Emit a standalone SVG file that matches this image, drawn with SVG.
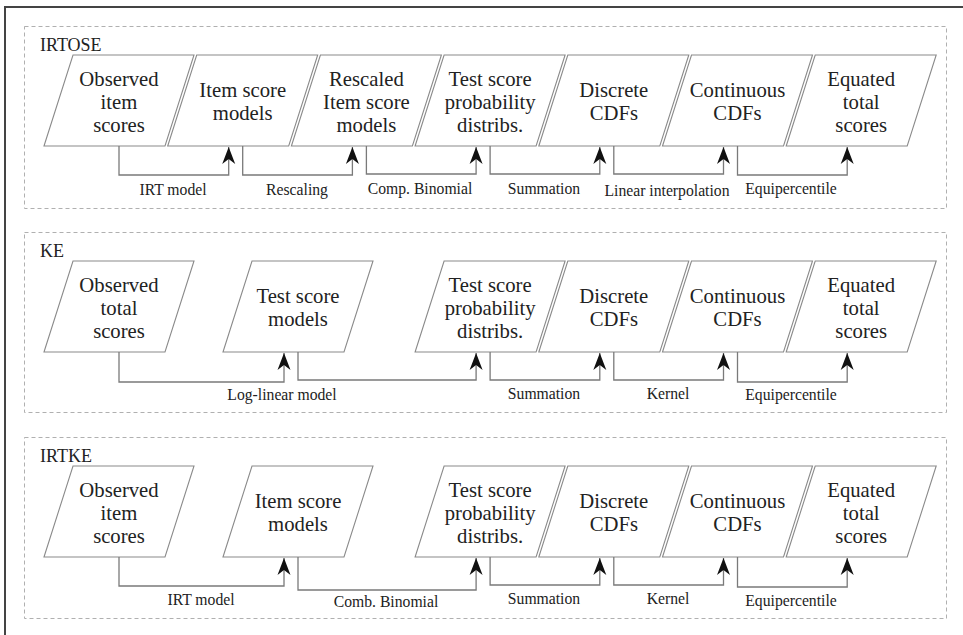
<svg xmlns="http://www.w3.org/2000/svg" width="963" height="635" viewBox="0 0 963 635">
<style>
.bg{fill:#fff}
.frame{stroke:#444;stroke-width:2;fill:none}
.sec{fill:none;stroke:#b0b0b0;stroke-width:1;stroke-dasharray:4 3}
.para{fill:#fff;stroke:#8a8a8a;stroke-width:1.1}
text{font-family:'Liberation Serif','DejaVu Serif',serif;fill:#222}
.nt{font-size:20.7px;text-anchor:middle}
.st{font-size:18px}
.lt{font-size:15.7px;text-anchor:middle}
.con{fill:none;stroke:#7a7a7a;stroke-width:1.3;marker-end:url(#arr)}
</style>
<defs>
<marker id="arr" markerUnits="userSpaceOnUse" viewBox="0 0 17 14" refX="17" refY="7" markerWidth="17" markerHeight="14" orient="auto">
<path d="M0,0.5 L17,7 L0,13.5 L5,7 Z" fill="#111"/>
</marker>
</defs>
<rect class="bg" x="0" y="0" width="963" height="635"/>
<path class="frame" d="M5,635 V7 H963"/>

<g id="sec-irtose">
<rect class="sec" x="24.5" y="26.5" width="922" height="182"/>
<text class="st" x="40" y="51">IRTOSE</text>
</g>
<g id="sec-ke">
<rect class="sec" x="24.5" y="232.5" width="922" height="180"/>
<text class="st" x="40" y="257">KE</text>
</g>
<g id="sec-irtke">
<rect class="sec" x="24.5" y="437.5" width="922" height="181"/>
<text class="st" x="40" y="462">IRTKE</text>
</g>

<!-- IRTOSE nodes -->
<g id="a1"><polygon class="para" points="44,146 73,55 194,55 165,146"/>
<text class="nt" x="119" y="86">Observed</text><text class="nt" x="119" y="109">item</text><text class="nt" x="119" y="132">scores</text></g>
<g id="a2"><polygon class="para" points="167.7,146 196.7,55 317.7,55 288.7,146"/>
<text class="nt" x="242.7" y="97">Item score</text><text class="nt" x="242.7" y="120">models</text></g>
<g id="a3"><polygon class="para" points="291.4,146 320.4,55 441.4,55 412.4,146"/>
<text class="nt" x="366.4" y="86">Rescaled</text><text class="nt" x="366.4" y="109">Item score</text><text class="nt" x="366.4" y="132">models</text></g>
<g id="a4"><polygon class="para" points="415.1,146 444.1,55 565.1,55 536.1,146"/>
<text class="nt" x="490.1" y="86">Test score</text><text class="nt" x="490.1" y="109">probability</text><text class="nt" x="490.1" y="132">distribs.</text></g>
<g id="a5"><polygon class="para" points="538.8,146 567.8,55 688.8,55 659.8,146"/>
<text class="nt" x="613.8" y="97">Discrete</text><text class="nt" x="613.8" y="120">CDFs</text></g>
<g id="a6"><polygon class="para" points="662.5,146 691.5,55 812.5,55 783.5,146"/>
<text class="nt" x="737.5" y="97">Continuous</text><text class="nt" x="737.5" y="120">CDFs</text></g>
<g id="a7"><polygon class="para" points="786.2,146 815.2,55 936.2,55 907.2,146"/>
<text class="nt" x="861.2" y="86">Equated</text><text class="nt" x="861.2" y="109">total</text><text class="nt" x="861.2" y="132">scores</text></g>

<!-- KE nodes -->
<g id="b1"><polygon class="para" points="44,352 73,261 194,261 165,352"/>
<text class="nt" x="119" y="292">Observed</text><text class="nt" x="119" y="315">total</text><text class="nt" x="119" y="338">scores</text></g>
<g id="b2"><polygon class="para" points="223,352 252,261 373,261 344,352"/>
<text class="nt" x="298" y="303">Test score</text><text class="nt" x="298" y="326">models</text></g>
<g id="b3"><polygon class="para" points="415.1,352 444.1,261 565.1,261 536.1,352"/>
<text class="nt" x="490.1" y="292">Test score</text><text class="nt" x="490.1" y="315">probability</text><text class="nt" x="490.1" y="338">distribs.</text></g>
<g id="b4"><polygon class="para" points="538.8,352 567.8,261 688.8,261 659.8,352"/>
<text class="nt" x="613.8" y="303">Discrete</text><text class="nt" x="613.8" y="326">CDFs</text></g>
<g id="b5"><polygon class="para" points="662.5,352 691.5,261 812.5,261 783.5,352"/>
<text class="nt" x="737.5" y="303">Continuous</text><text class="nt" x="737.5" y="326">CDFs</text></g>
<g id="b6"><polygon class="para" points="786.2,352 815.2,261 936.2,261 907.2,352"/>
<text class="nt" x="861.2" y="292">Equated</text><text class="nt" x="861.2" y="315">total</text><text class="nt" x="861.2" y="338">scores</text></g>

<!-- IRTKE nodes -->
<g id="c1"><polygon class="para" points="44,557 73,466 194,466 165,557"/>
<text class="nt" x="119" y="497">Observed</text><text class="nt" x="119" y="520">item</text><text class="nt" x="119" y="543">scores</text></g>
<g id="c2"><polygon class="para" points="223,557 252,466 373,466 344,557"/>
<text class="nt" x="298" y="508">Item score</text><text class="nt" x="298" y="531">models</text></g>
<g id="c3"><polygon class="para" points="415.1,557 444.1,466 565.1,466 536.1,557"/>
<text class="nt" x="490.1" y="497">Test score</text><text class="nt" x="490.1" y="520">probability</text><text class="nt" x="490.1" y="543">distribs.</text></g>
<g id="c4"><polygon class="para" points="538.8,557 567.8,466 688.8,466 659.8,557"/>
<text class="nt" x="613.8" y="508">Discrete</text><text class="nt" x="613.8" y="531">CDFs</text></g>
<g id="c5"><polygon class="para" points="662.5,557 691.5,466 812.5,466 783.5,557"/>
<text class="nt" x="737.5" y="508">Continuous</text><text class="nt" x="737.5" y="531">CDFs</text></g>
<g id="c6"><polygon class="para" points="786.2,557 815.2,466 936.2,466 907.2,557"/>
<text class="nt" x="861.2" y="497">Equated</text><text class="nt" x="861.2" y="520">total</text><text class="nt" x="861.2" y="543">scores</text></g>

<g id="connectors">
<path class="con" d="M119,146 V175 H228.7 V147"/>
<path class="con" d="M242.7,146 V175 H352.4 V147"/>
<path class="con" d="M366.4,146 V174 H476.1 V147"/>
<path class="con" d="M490.1,146 V174 H599.8 V147"/>
<path class="con" d="M613.8,146 V174 H723.5 V147"/>
<path class="con" d="M737.5,146 V175 H847.2 V147"/>

<path class="con" d="M119,352 V382 H284 V353"/>
<path class="con" d="M298,352 V380 H476.1 V353"/>
<path class="con" d="M490.1,352 V380 H599.8 V353"/>
<path class="con" d="M613.8,352 V380 H723.5 V353"/>
<path class="con" d="M737.5,352 V382 H847.2 V353"/>

<path class="con" d="M119,557 V586 H284 V558"/>
<path class="con" d="M298,557 V590 H476.1 V558"/>
<path class="con" d="M490.1,557 V585 H599.8 V558"/>
<path class="con" d="M613.8,557 V585 H723.5 V558"/>
<path class="con" d="M737.5,557 V587 H847.2 V558"/>
</g>

<g id="labels">
<text class="lt" x="173" y="195">IRT model</text>
<text class="lt" x="297" y="195">Rescaling</text>
<text class="lt" x="420" y="194">Comp. Binomial</text>
<text class="lt" x="544" y="194">Summation</text>
<text class="lt" x="667" y="196">Linear interpolation</text>
<text class="lt" x="791" y="194">Equipercentile</text>

<text class="lt" x="282" y="400">Log-linear model</text>
<text class="lt" x="544" y="399">Summation</text>
<text class="lt" x="668" y="399">Kernel</text>
<text class="lt" x="791" y="400">Equipercentile</text>

<text class="lt" x="201" y="605">IRT model</text>
<text class="lt" x="386" y="607">Comb. Binomial</text>
<text class="lt" x="544" y="604">Summation</text>
<text class="lt" x="668" y="604">Kernel</text>
<text class="lt" x="791" y="606">Equipercentile</text>
</g>
</svg>
